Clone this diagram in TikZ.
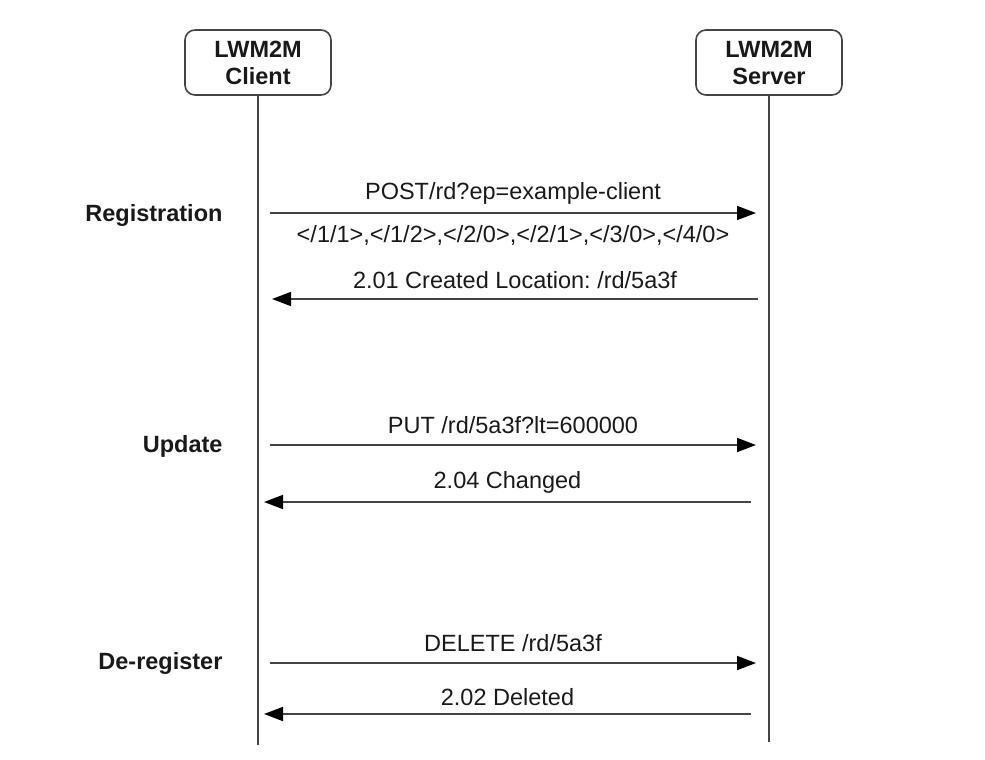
\documentclass[tikz,border=0pt]{standalone}
\usepackage{fontspec}
\setmainfont{Liberation Sans}
\usepackage{tikz}
\usetikzlibrary{calc}
\usetikzlibrary{arrows.meta}
\definecolor{linegray}{rgb}{0.27,0.27,0.27}
\definecolor{textgray}{rgb}{0.1,0.1,0.1}
\frenchspacing
\tikzstyle{every node}=[font=\fontsize{23.5}{27}\selectfont,text=textgray]
\tikzstyle{party}=[draw=linegray,line width=1.6pt,rounded corners=10pt,minimum width=146pt,minimum height=65pt,align=center,font=\fontsize{23.5}{27}\selectfont\bfseries,inner sep=0pt]
\tikzstyle{phase}=[anchor=east,font=\fontsize{23.5}{27}\selectfont\bfseries]
\tikzstyle{msg}=[->,line width=1.6pt,color=linegray]

\begin{document}
\begin{tikzpicture}[line cap=butt,line join=round,>={Triangle[length=19pt,width=14pt,color=black]},x=1pt,y=-1pt]
            \useasboundingbox (0,0) rectangle (985,760);
            \node [party] (client) at (258,62.5) {LWM2M\\Client};
            \node [party] (server) at (769,62.5) {LWM2M\\Server};
            \coordinate (clientend) at (258,745);
            \coordinate (serverend) at (769,742);
            \draw [line width=1.6pt,color=linegray] (client) -- (clientend);
            \draw [line width=1.6pt,color=linegray] (server) -- (serverend);

            \coordinate (post1) at (270,213);   \coordinate (post2) at (756,213);
            \coordinate (crt1) at (758,299);    \coordinate (crt2) at (272,299);
            \coordinate (put1) at (270,445);    \coordinate (put2) at (756,445);
            \coordinate (chg1) at (751,502);    \coordinate (chg2) at (264,502);
            \coordinate (del1) at (270,663);    \coordinate (del2) at (756,663);
            \coordinate (dld1) at (751,714);    \coordinate (dld2) at (264,714);

            \draw [msg] (post1) -- (post2) node [midway, above=4pt] (postlabel) {POST/rd?ep=example-client}
                node [midway, below=8pt] (linklabel) {</1/1>,</1/2>,</2/0>,</2/1>,</3/0>,</4/0>};
            \draw [msg] (crt1) -- (crt2) node [midway, above=6pt] (crtlabel) {2.01 Created Location: /rd/5a3f};
            \draw [msg] (put1) -- (put2) node [midway, above=7pt] (putlabel) {PUT /rd/5a3f?lt=600000};
            \draw [msg] (chg1) -- (chg2) node [midway, above=4pt] (chglabel) {2.04 Changed};
            \draw [msg] (del1) -- (del2) node [midway, above=7pt] (dellabel) {DELETE /rd/5a3f};
            \draw [msg] (dld1) -- (dld2) node [midway, above=4pt] (dldlabel) {2.02 Deleted};

            \node [phase] (registration) at (226,215) {Registration};
            \node [phase] (update) at (226,446) {Update};
            \node [phase] (deregister) at (226,663) {De-register};
            \end{tikzpicture}
\end{document}
